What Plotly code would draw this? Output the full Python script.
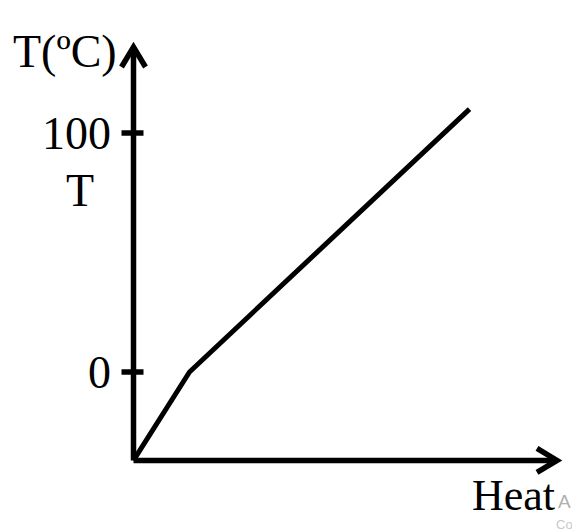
import plotly.graph_objects as go

# ---- data ----
heat = [0, 1, 6]            # arbitrary heat units
temp = [-37, 0, 110]        # temperature, degC
tick_vals = [0, 100]
tick_text = ["0", "100"]
x_title = "Heat"
y_title = "T(ºC)"
mid_label = "T"
mid_label_value = 76

W, H = 572, 532
# pixel mapping of the axes (used only to set ranges and decorations)
X0PX, XSCALE = 133.5, 56.0      # pixel of heat=0, px per heat unit
Y0PX, YSCALE = 372.0, 2.39      # pixel of T=0, px per degC

xr = [(0 - X0PX) / XSCALE, (W - X0PX) / XSCALE]
yr = [(Y0PX - H) / YSCALE, (Y0PX - 0) / YSCALE]

def dx(px):  # pixel offset -> heat units
    return px / XSCALE

def dy(px):  # pixel offset -> degC
    return px / YSCALE

xmin_axis = heat[0]
ymin_axis = temp[0]
x_tip = xmin_axis + dx(557 - X0PX)
y_tip = (Y0PX - 47) / YSCALE

fig = go.Figure()
fig.add_trace(go.Scatter(x=heat, y=temp, mode="lines",
                         line=dict(color="black", width=5),
                         hoverinfo="skip", showlegend=False))

shapes = []
line_style = dict(color="black", width=5.5)
# y axis
shapes.append(dict(type="line", x0=xmin_axis, x1=xmin_axis, y0=ymin_axis, y1=y_tip,
                   line=line_style))
# x axis
shapes.append(dict(type="line", x0=xmin_axis, x1=x_tip, y0=ymin_axis, y1=ymin_axis,
                   line=line_style))
# arrow chevrons
shapes.append(dict(type="path",
                   path=f"M {xmin_axis - dx(12)} {y_tip - dy(20)} L {xmin_axis} {y_tip} L {xmin_axis + dx(12)} {y_tip - dy(20)}",
                   line=line_style))
shapes.append(dict(type="path",
                   path=f"M {x_tip - dx(20)} {ymin_axis + dy(12)} L {x_tip} {ymin_axis} L {x_tip - dx(20)} {ymin_axis - dy(12)}",
                   line=line_style))
# ticks crossing the y axis
for v in tick_vals:
    shapes.append(dict(type="line", x0=xmin_axis - dx(12), x1=xmin_axis + dx(10),
                       y0=v, y1=v, line=line_style))

serif = "Liberation Serif"
ann = []
for v, t in zip(tick_vals, tick_text):
    ann.append(dict(x=xmin_axis - dx(21), y=v, text=t, showarrow=False,
                    xanchor="right", yanchor="middle",
                    font=dict(family=serif, size=46, color="black")))
ann.append(dict(x=xmin_axis - dx(54), y=mid_label_value, text=mid_label, showarrow=False,
                xanchor="center", yanchor="middle",
                font=dict(family=serif, size=46, color="black")))
ann.append(dict(x=xmin_axis - dx(69), y=(Y0PX - 51) / YSCALE, text=y_title, showarrow=False,
                xanchor="center", yanchor="middle",
                font=dict(family=serif, size=46, color="black")))
ann.append(dict(x=xmin_axis + dx(513 - X0PX), y=ymin_axis - dy(35), text=x_title, showarrow=False,
                xanchor="center", yanchor="middle",
                font=dict(family=serif, size=44, color="black")))
# faint watermark fragments at the corner (pixel positions on paper)
ann.append(dict(x=556 / W, y=1 - 501 / H, xref="paper", yref="paper", text="A", showarrow=False,
                xanchor="left", yanchor="middle",
                font=dict(family="Liberation Sans", size=19, color="#b0b0b0")))
ann.append(dict(x=554 / W, y=1 - 524 / H, xref="paper", yref="paper", text="Co", showarrow=False,
                xanchor="left", yanchor="middle",
                font=dict(family="Liberation Sans", size=13, color="#c8c8c8")))

fig.update_layout(
    width=W, height=H,
    margin=dict(l=0, r=0, t=0, b=0),
    paper_bgcolor="white", plot_bgcolor="white",
    xaxis=dict(range=xr, visible=False, fixedrange=True),
    yaxis=dict(range=yr, visible=False, fixedrange=True),
    shapes=shapes, annotations=ann,
)
fig.write_html("out.html",
               config={"displayModeBar": False},
               post_script="document.body.style.margin='0';document.body.style.overflow='hidden';")
